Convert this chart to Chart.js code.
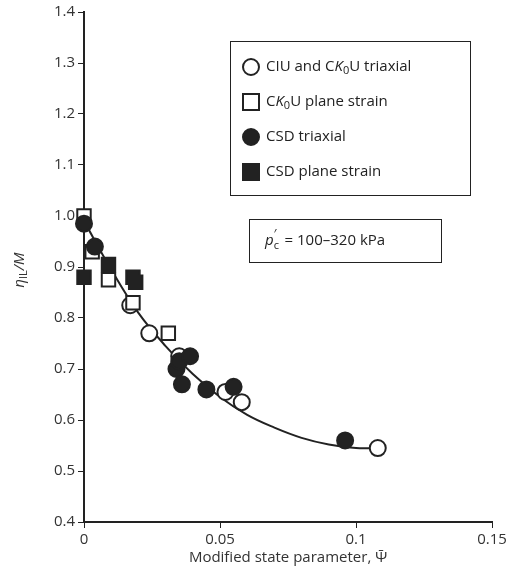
<!DOCTYPE html>
<html><head><meta charset="utf-8">
<script src="https://cdn.jsdelivr.net/npm/chart.js@4/dist/chart.umd.min.js"></script>
<style>html,body{margin:0;background:#fff}#wrap{width:520px;height:569px}</style>
</head><body><div id="wrap"><canvas id="c"></canvas></div>
<script>
const ciuX = [0.017, 0.024, 0.035, 0.052, 0.058, 0.108]
const ciuY = [0.825, 0.77, 0.725, 0.655, 0.635, 0.545]
const ck0X = [0, 0.003, 0.009, 0.018, 0.031]
const ck0Y = [1.0, 0.93, 0.875, 0.83, 0.77]
const csdTX = [0, 0.004, 0.034, 0.035, 0.036, 0.039, 0.045, 0.055, 0.096]
const csdTY = [0.985, 0.94, 0.70, 0.715, 0.67, 0.725, 0.66, 0.665, 0.56]
const csdPX = [0, 0.009, 0.018, 0.019]
const csdPY = [0.88, 0.905, 0.88, 0.87]
const fitX = [0, 0.01, 0.02, 0.03, 0.04, 0.05, 0.06, 0.07, 0.08, 0.09, 0.1, 0.108]
const fitY = [0.99, 0.895, 0.81, 0.745, 0.69, 0.645, 0.61, 0.585, 0.565, 0.552, 0.545, 0.545]
const labels = ['CIU and CK0U triaxial', 'CK0U plane strain', 'CSD triaxial', 'CSD plane strain']

const pts = (xs, ys) => xs.map((x, i) => ({x: x, y: ys[i]}))
const F = '"Open Sans", "Noto Sans", sans-serif'

function richText(ctx, parts, x, y) {
  // parts: [text, italic, sub]
  parts.forEach(p => {
    ctx.font = (p[1] ? 'italic ' : '') + (p[2] ? '11px ' : '15px ') + F
    ctx.fillText(p[0], x, y + (p[2] ? 4 : 0))
    x += ctx.measureText(p[0]).width
  })
  return x
}

const boxes = {
  id: 'boxes',
  afterDraw(chart) {
    const ctx = chart.ctx
    ctx.save()
    ctx.strokeStyle = '#222'; ctx.lineWidth = 1; ctx.fillStyle = '#222'
    ctx.strokeRect(230.5, 41.5, 240, 154)
    ctx.textBaseline = 'middle'
    const rows = [
      [['CIU and C'], ['K', 1], ['0', 0, 1], ['U triaxial']],
      [['C'], ['K', 1], ['0', 0, 1], ['U plane strain']],
      [['CSD triaxial']],
      [['CSD plane strain']]
    ]
    rows.forEach((r, i) => {
      const y = 67 + i * 35
      const ds = chart.data.datasets[i]
      ctx.lineWidth = 2
      if (ds.pointStyle === 'circle') { ctx.beginPath(); ctx.arc(251, y, 8, 0, Math.PI * 2) }
      else { ctx.beginPath(); ctx.rect(243, y - 8, 16, 16) }
      ctx.fillStyle = ds.pointBackgroundColor; ctx.fill(); ctx.stroke()
      ctx.fillStyle = '#222'
      richText(ctx, r, 266, y)
    })
    ctx.lineWidth = 1
    ctx.strokeRect(249.5, 219.5, 192, 43)
    let x = richText(ctx, [['p', 1]], 265, 241)
    ctx.font = '12px ' + F; ctx.fillText('′', x, 235); ctx.font = '11px ' + F; ctx.fillText('c', x, 246)
    richText(ctx, [[' = 100–320 kPa']], x + 7, 241)
    // y axis title with subscript
    ctx.translate(20, 270); ctx.rotate(-Math.PI / 2)
    ctx.fillStyle = '#333'
    const w = (() => { ctx.font = 'italic 15px ' + F; let a = ctx.measureText('η').width; ctx.font = '11px ' + F; a += ctx.measureText('IL').width; ctx.font = 'italic 15px ' + F; return a + ctx.measureText('/M').width })()
    richText(ctx, [['η', 1], ['IL', 0, 1], ['/M', 1]], -w / 2, 0)
    ctx.restore()
  }
}

const sc = (fill, style, d) => ({
  type: 'scatter', data: d, pointStyle: style, pointRadius: style === 'rect' ? 9.5 : 8, clip: false,
  pointBorderWidth: 2, pointBorderColor: '#222', pointBackgroundColor: fill, borderColor: '#222', backgroundColor: fill
})

new Chart(document.getElementById('c'), {
  type: 'scatter',
  data: {
    datasets: [
      sc('#fff', 'circle', pts(ciuX, ciuY)),
      sc('#fff', 'rect', pts(ck0X, ck0Y)),
      sc('#222', 'circle', pts(csdTX, csdTY)),
      sc('#222', 'rect', pts(csdPX, csdPY)),
      {type: 'line', data: pts(fitX, fitY), borderColor: '#222', borderWidth: 2, pointRadius: 0, tension: 0.4, fill: false}
    ].map((d, i) => Object.assign(d, {label: labels[i] || 'fit', order: i === 4 ? 5 : 4 - i}))
  },
  options: {
    responsive: true, maintainAspectRatio: false, animation: false,
    layout: {padding: {top: 12, right: 28}},
    plugins: {legend: {display: false}, tooltip: {enabled: false}},
    scales: {
      x: {
        type: 'linear', min: 0, max: 0.15,
        afterFit: s => { s.height = 47 },
        border: {color: '#222', width: 2},
        grid: {display: true, drawOnChartArea: false, drawTicks: true, tickLength: 6, color: '#222'},
        ticks: {stepSize: 0.05, color: '#333', font: {family: F, size: 15}, callback: v => v === 0 ? '0' : String(+v.toFixed(2))},
        title: {display: true, text: 'Modified state parameter, Ψ̄', color: '#333', font: {family: F, size: 15}, padding: 2}
      },
      y: {
        min: 0.4, max: 1.4,
        afterFit: s => { s.width = 84 },
        border: {color: '#222', width: 2},
        grid: {display: true, drawOnChartArea: false, drawTicks: true, tickLength: 6, color: '#222'},
        ticks: {stepSize: 0.1, color: '#333', font: {family: F, size: 15}, callback: v => v.toFixed(1)},
        title: {display: false}
      }
    }
  },
  plugins: [boxes]
})
</script></body></html>
